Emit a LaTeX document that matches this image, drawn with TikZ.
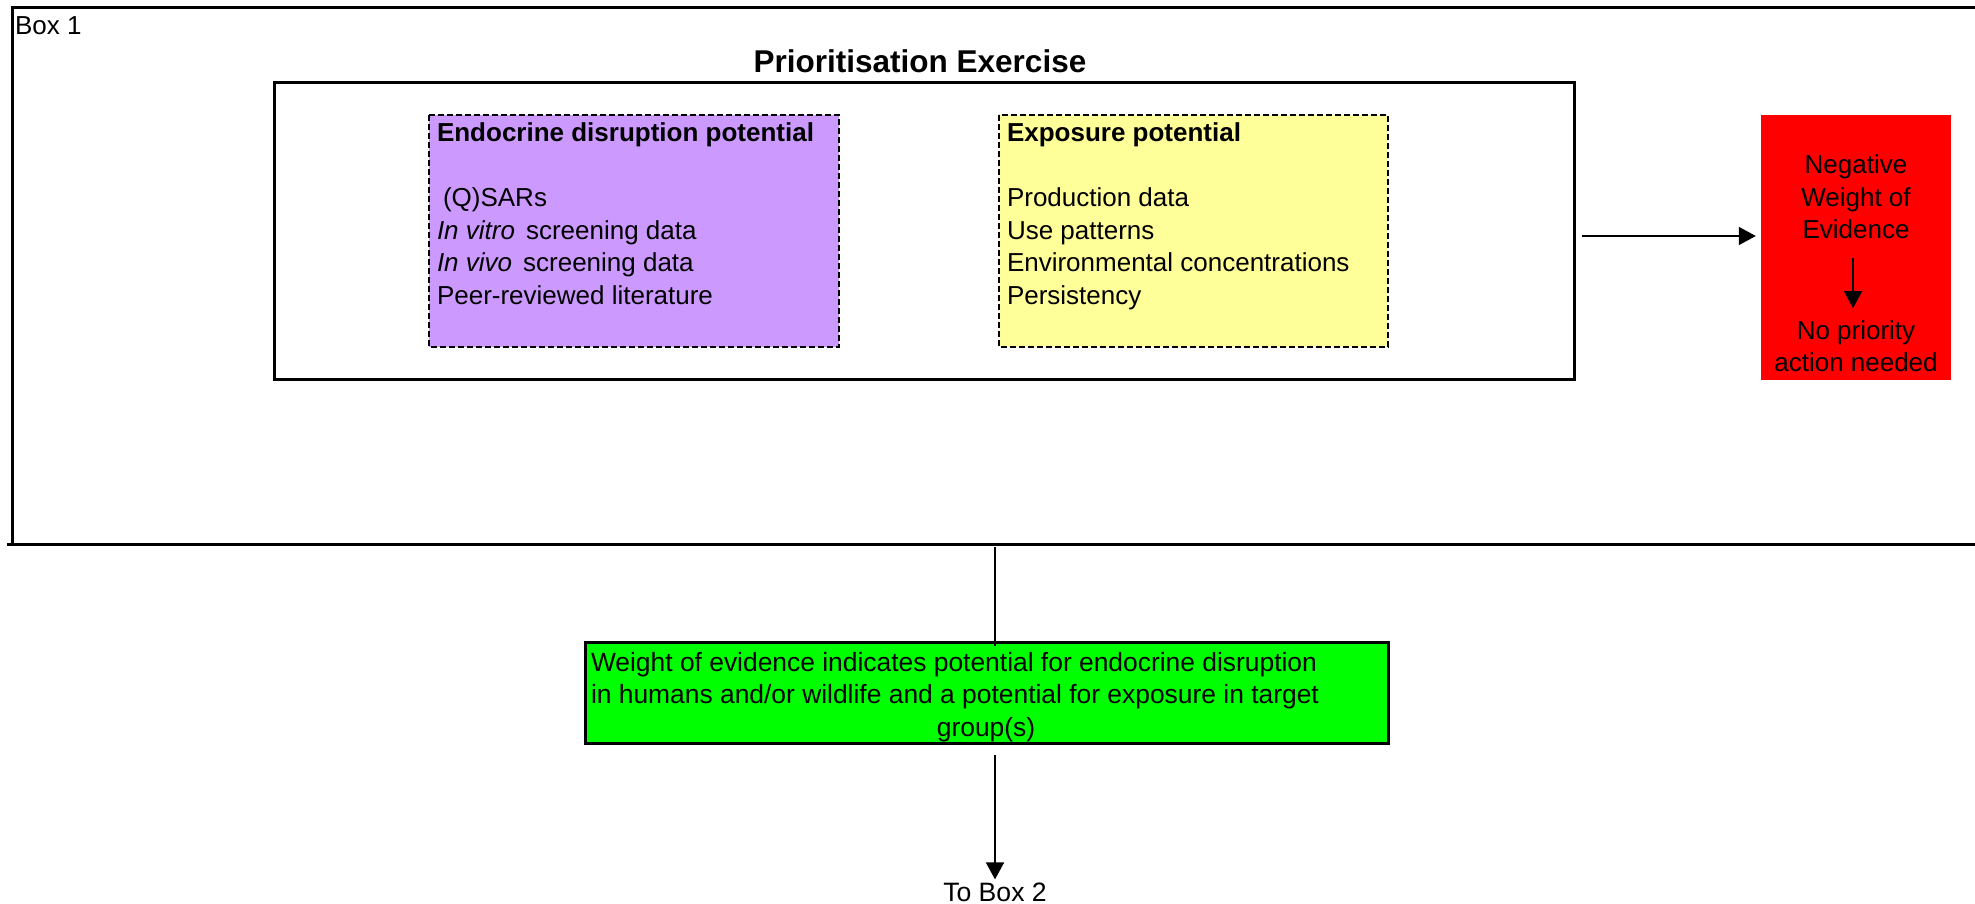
\documentclass[tikz,border=0pt]{standalone}
\usepackage{fontspec}
\setmainfont{Liberation Sans}
\usetikzlibrary{arrows.meta,calc}
\definecolor{edpurple}{HTML}{CC99FF}
\definecolor{expyellow}{HTML}{FFFF99}
\definecolor{negred}{HTML}{FF0000}
\definecolor{woegreen}{HTML}{00FF00}
\tikzset{
  txt/.style={inner sep=0pt, outer sep=0pt, font=\fontsize{26}{32.5}\selectfont},
  titletxt/.style={inner sep=0pt, outer sep=0pt, font=\fontsize{31.5}{38}\selectfont\bfseries},
  frame/.style={draw=black, line width=3pt},
  dashbox/.style={draw=black, line width=2.4pt, dash pattern=on 6pt off 3pt},
  arr/.style={draw=black, line width=1.6pt, -{Triangle[length=17pt,width=18pt]}},
  plainline/.style={draw=black, line width=1.6pt},
}
\begin{document}
\begin{tikzpicture}[x=1pt,y=-1pt]
\useasboundingbox (0,0) rectangle (1975,904);
% Box 1 frame (right side runs off the picture)
\draw[frame] (1980,8) -- (12,8) -- (12,544);
\draw[frame] (7,544) -- (1980,544);
\node[txt, anchor=base west] (box1lbl) at (15,35) {Box 1};
\node[titletxt, anchor=base] (title) at (920,73) {Prioritisation Exercise};
% Prioritisation box
\draw[frame] (274,83) rectangle (1574,379);
\node[inner sep=0pt, minimum width=1300pt, minimum height=296pt] (prio) at (924,231) {};
% Endocrine disruption potential
\filldraw[dashbox, fill=edpurple] (429,115) rectangle (839,347);
\node[txt, anchor=base west] (edtext) at (437,142) {\parbox[t]{400pt}{\raggedright
  \textbf{Endocrine disruption potential}\\[32.5pt]
  \hspace*{6pt}(Q)SARs\\
  \textit{In vitro}\hspace{11pt}screening data\\
  \textit{In vivo}\hspace{11pt}screening data\\
  Peer-reviewed literature}};
% Exposure potential
\filldraw[dashbox, fill=expyellow] (999,115) rectangle (1388,347);
\node[txt, anchor=base west] (exptext) at (1007,142) {\parbox[t]{380pt}{\raggedright
  \textbf{Exposure potential}\\[32.5pt]
  Production data\\
  Use patterns\\
  Environmental concentrations\\
  Persistency}};
% Negative weight of evidence
\fill[negred] (1761,115) rectangle (1951,380);
\node[inner sep=0pt, minimum width=190pt, minimum height=265pt] (red) at (1856,247.5) {};
\node[txt, anchor=base] (nwe) at (1856,174) {\parbox[t]{190pt}{\centering Negative\\Weight of\\Evidence}};
\node[txt, anchor=base] (npa) at (1856,339) {\parbox[t]{190pt}{\centering No priority\\action needed}};
\coordinate (arrowy) at (0,236);
\draw[arr, shorten <=8pt, shorten >=5pt] (prio.east |- arrowy) -- (red.west |- arrowy);
\draw[arr] ($(nwe.south)+(-3,19)$) -- ($(npa.north)+(-3,-12)$);
% Green box
\node[draw=black, line width=3pt, fill=woegreen, minimum width=803pt, minimum height=101pt, inner sep=0pt] (green) at (986.5,692.5) {};
\node[txt, anchor=base west] (gtext) at (591,671) {\parbox[t]{760pt}{\raggedright\fontsize{26.4}{32.5}\selectfont
  Weight of evidence indicates potential for endocrine disruption\\
  in humans and/or wildlife and a potential for exposure in target}};
\node[txt, anchor=base] (gtext3) at (986,736) {\fontsize{26.4}{32.5}\selectfont group(s)};
% connectors
\coordinate (b1) at (995,547);
\node[txt, anchor=base] (tobox) at (995,901) {\fontsize{26.6}{32.5}\selectfont To Box 2};
\draw[plainline] (b1) -- ($(green.north -| b1)+(0,5)$);
\draw[arr, shorten <=10pt] (green.south -| tobox.north) -- ($(tobox.north)+(0,-3)$);
\end{tikzpicture}
\end{document}
